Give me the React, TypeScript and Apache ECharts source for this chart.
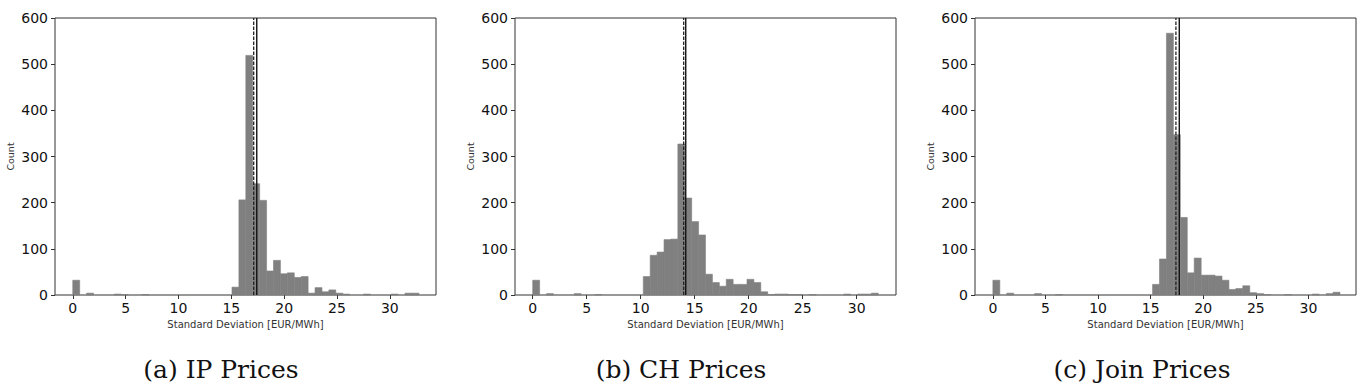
import React, { useEffect, useRef } from "react";
import * as echarts from "echarts";

// ---- data ----
const xTicks = [0, 5, 10, 15, 20, 25, 30];
const yTicks = [0, 100, 200, 300, 400, 500, 600];

const ipCounts = [
  32, 0, 4, 0, 0, 0, 2, 1, 0, 0,
  1, 0, 0, 0, 0, 0, 0, 0, 0, 0,
  0, 0, 0, 17, 206, 519, 241, 205, 52, 75,
  46, 48, 38, 40, 4, 16, 7, 11, 4, 2,
  0, 0, 2, 0, 0, 0, 2, 0, 4, 4,
];
const chCounts = [
  32, 0, 3, 0, 0, 0, 3, 0, 0, 1,
  0, 0, 0, 0, 0, 0, 40, 86, 93, 120,
  121, 327, 210, 159, 130, 45, 27, 19, 34, 23,
  23, 34, 27, 7, 1, 2, 2, 1, 1, 0,
  1, 0, 0, 0, 0, 2, 0, 2, 2, 4,
];
const joinCounts = [
  32, 0, 4, 0, 0, 0, 3, 0, 0, 1,
  0, 0, 0, 0, 0, 0, 0, 0, 0, 0,
  0, 0, 0, 23, 78, 567, 347, 168, 48, 80,
  43, 43, 41, 32, 12, 14, 20, 5, 3, 1,
  0, 0, 1, 0, 0, 0, 2, 0, 3, 6,
];

const binWidths = [0.655, 0.64, 0.66];
const dashedLines = [17.12, 13.98, 17.4];
const solidLines = [17.41, 14.17, 17.72];
const xMins = [-1.68, -1.64, -1.7];
const xMaxs = [34.37, 33.64, 34.52];

const captions = ["(a) IP Prices", "(b) CH Prices", "(c) Join Prices"];
const xName = "Standard Deviation [EUR/MWh]";
const yName = "Count";

// ---- layout ----
const gridLefts = [55, 515, 975];
const gridWidth = 381;
const gridTop = 18;
const gridHeight = 277;
const captionX = [221, 681, 1142];

export default function App() {
  const ref = useRef<HTMLDivElement>(null);

  useEffect(() => {
    if (!ref.current) return;
    const chart = echarts.init(ref.current, undefined, { renderer: "svg" });
    const allCounts = [ipCounts, chCounts, joinCounts];

    const grids = gridLefts.map((l) => ({
      left: l,
      top: gridTop,
      width: gridWidth,
      height: gridHeight,
      show: true,
      borderColor: "#333",
      borderWidth: 1,
      backgroundColor: "transparent",
    }));

    const xAxes = gridLefts.map((_, i) => ({
      type: "value",
      gridIndex: i,
      position: "bottom",
      min: xMins[i],
      max: xMaxs[i],
      axisLine: { show: false, onZero: false },
      axisTick: {
        show: true,
        customValues: xTicks,
        length: 4,
        lineStyle: { color: "#333", width: 1 },
      },
      axisLabel: {
        customValues: xTicks,
        fontSize: 14,
        fontFamily: "DejaVu Sans",
        color: "#111",
        margin: 6,
      },
      splitLine: { show: false },
      name: xName,
      nameLocation: "middle",
      nameGap: 24,
      nameTextStyle: { fontSize: 10, fontFamily: "DejaVu Sans", color: "#333" },
    }));

    const yAxes = gridLefts.map((_, i) => ({
      type: "value",
      gridIndex: i,
      position: "left",
      min: yTicks[0],
      max: yTicks[yTicks.length - 1],
      interval: 100,
      axisLine: { show: false, onZero: false },
      axisTick: { show: true, length: 4, lineStyle: { color: "#333", width: 1 } },
      axisLabel: {
        fontSize: 14,
        fontFamily: "DejaVu Sans",
        color: "#111",
        margin: 7,
      },
      splitLine: { show: false },
      name: yName,
      nameLocation: "middle",
      nameRotate: 90,
      nameGap: 40,
      nameTextStyle: { fontSize: 9.5, fontFamily: "DejaVu Sans", color: "#333" },
    }));

    const series: any[] = [];
    allCounts.forEach((counts, i) => {
      const w = binWidths[i];
      const data = counts
        .map((c, k) => [k * w, (k + 1) * w, c])
        .filter((d) => d[2] > 0);
      series.push({
        type: "custom",
        xAxisIndex: i,
        yAxisIndex: i,
        data,
        encode: { x: [0, 1], y: 2 },
        renderItem: (params: any, api: any) => {
          const p0 = api.coord([api.value(0), api.value(2)]);
          const p1 = api.coord([api.value(1), 0]);
          return {
            type: "rect",
            shape: { x: p0[0], y: p0[1], width: p1[0] - p0[0], height: p1[1] - p0[1] },
            style: { fill: "#808080", stroke: "#808080", lineWidth: 0.6 },
          };
        },
        z: 2,
      });
      series.push({
        type: "line",
        xAxisIndex: i,
        yAxisIndex: i,
        data: [
          [dashedLines[i], yTicks[0]],
          [dashedLines[i], yTicks[yTicks.length - 1]],
        ],
        symbol: "none",
        lineStyle: { color: "#222", width: 1.3, type: [3.5, 1.5] },
        z: 3,
      });
      series.push({
        type: "line",
        xAxisIndex: i,
        yAxisIndex: i,
        data: [
          [solidLines[i], yTicks[0]],
          [solidLines[i], yTicks[yTicks.length - 1]],
        ],
        symbol: "none",
        lineStyle: { color: "#111", width: 1.4 },
        z: 3,
      });
    });

    chart.setOption({
      animation: false,
      backgroundColor: "#fff",
      grid: grids,
      xAxis: xAxes,
      yAxis: yAxes,
      series,
      graphic: captions.map((t, i) => ({
        type: "text",
        x: captionX[i],
        y: 369,
        style: {
          text: t,
          fontSize: 25,
          fontFamily: "DejaVu Serif",
          fill: "#111",
          textAlign: "center",
          textVerticalAlign: "middle",
        },
      })),
    });

    return () => chart.dispose();
  }, []);

  return (
    <div
      ref={ref}
      style={{ position: "absolute", left: 0, top: 0, width: 1362, height: 387 }}
    />
  );
}
